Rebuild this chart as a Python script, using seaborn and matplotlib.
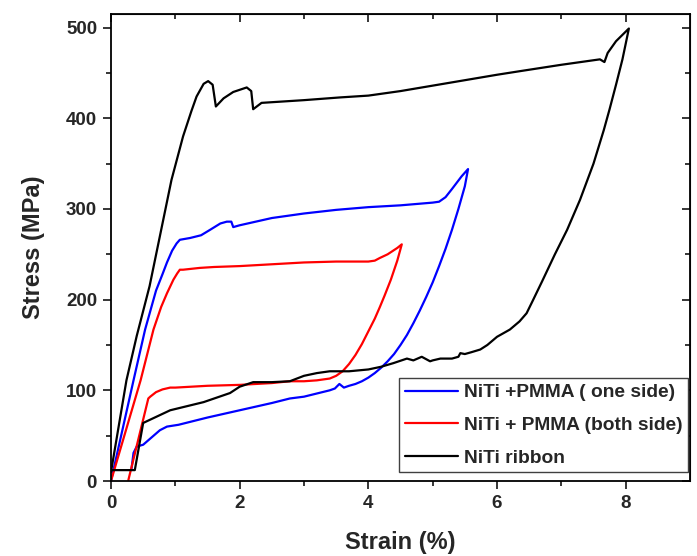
import numpy as np
import pandas as pd
import matplotlib
matplotlib.use("Agg")
import matplotlib.pyplot as plt
import seaborn as sns

# ---- data (strain %, stress MPa) ----
series_names = ["NiTi +PMMA ( one side)", "NiTi + PMMA (both side)", "NiTi ribbon"]
series_colors = ["#0000ff", "#ff0000", "#000000"]

blue_x = [0.0, 0.35, 0.53, 0.7, 0.8, 0.87, 0.95, 1.02, 1.07, 1.23, 1.4, 1.54, 1.7, 1.8, 1.87, 1.9, 2.0, 2.5,
          2.8, 3.0, 3.5, 4.0, 4.5, 5.0, 5.1, 5.2, 5.3, 5.45, 5.55,
          5.5, 5.4, 5.3, 5.2, 5.1, 5.0, 4.9, 4.8, 4.7, 4.6, 4.5, 4.4, 4.3, 4.2, 4.1, 4.0, 3.9, 3.8, 3.7,
          3.62, 3.55, 3.48, 3.4, 3.0, 2.78, 2.5, 2.0, 1.5, 1.05, 0.87, 0.76, 0.5, 0.4, 0.35, 0.32]
blue_y = [0, 111, 167, 210, 228, 241, 254, 262, 266, 268, 271, 277, 284, 286, 286, 280, 282, 290,
          293, 295, 299, 302, 304, 307, 308, 313, 322, 336, 344,
          325, 300, 277, 256, 237, 219, 203, 188, 174, 161, 150, 140, 132, 125, 119, 114, 110, 107, 105,
          103, 107, 102, 100, 93, 91, 86, 78, 70, 62, 60, 56, 40, 38, 31, 14]

red_x = [0.0, 0.46, 0.66, 0.78, 0.87, 0.97, 1.03, 1.07, 1.12, 1.38, 1.6, 2.0, 2.5, 3.0, 3.5, 4.0, 4.1, 4.18,
         4.3, 4.45, 4.52,
         4.45, 4.35, 4.25, 4.18, 4.1, 4.0, 3.9, 3.8, 3.7, 3.6, 3.5, 3.4, 3.2, 3.0, 2.78, 2.5, 2.0, 1.5,
         1.0, 0.92, 0.8, 0.7, 0.61, 0.58, 0.27]
red_y = [0, 111, 167, 192, 207, 222, 229, 233, 233, 235, 236, 237, 239, 241, 242, 242, 243, 246,
         250, 257, 261,
         243, 222, 204, 192, 179, 165, 151, 139, 129, 121, 116, 113, 111, 110, 110, 108, 106, 105,
         103, 103, 101, 98, 93, 91, 1]

black_x = [0.0, 0.24, 0.4, 0.6, 0.94, 1.12, 1.25, 1.33, 1.44, 1.51, 1.58, 1.63, 1.75, 1.9, 2.11, 2.18, 2.21,
           2.34, 3.0, 3.56, 4.0, 4.5, 5.0, 5.5, 6.0, 6.36, 7.0, 7.6, 7.67, 7.72, 7.85, 8.05,
           7.95, 7.85, 7.75, 7.66, 7.5, 7.29, 7.09, 6.9, 6.7, 6.55, 6.46, 6.35, 6.2, 6.0, 5.85, 5.74, 5.6,
           5.5, 5.43, 5.4, 5.3, 5.12, 5.0, 4.96, 4.83, 4.7, 4.6, 4.39, 4.2, 4.0, 3.7, 3.4, 3.2, 3.0,
           2.78, 2.5, 2.21, 2.0, 1.85, 1.44, 0.92, 0.53, 0.5, 0.37, 0.0]
black_y = [10, 111, 160, 215, 332, 380, 408, 424, 438, 441, 437, 413, 422, 429, 434, 430, 410,
           417, 420, 423, 425, 430, 436, 442, 448, 452, 459, 465, 462, 472, 485, 499,
           465, 437, 410, 387, 350, 310, 277, 250, 220, 198, 185, 176, 167, 159, 150, 145, 142,
           140, 141, 137, 135, 135, 133, 132, 137, 133, 135, 130, 126, 123, 121, 121, 119, 116,
           110, 109, 109, 104, 97, 87, 78, 65, 64, 12, 12]

x_ticks = [0, 2, 4, 6, 8]
y_ticks = [0, 100, 200, 300, 400, 500]

frames = []
for name, xs, ys in zip(series_names, [blue_x, red_x, black_x], [blue_y, red_y, black_y]):
    frames.append(pd.DataFrame({"strain": xs, "stress": ys, "series": name}))
df = pd.concat(frames, ignore_index=True)

sns.set_style("ticks")
plt.rcParams["font.family"] = ["Liberation Sans", "DejaVu Sans"]
plt.rcParams["font.weight"] = "bold"

fig = plt.figure(figsize=(6.97, 5.56), dpi=100)
ax = fig.add_axes([111 / 697, 1 - 481 / 556, 579 / 697, 467 / 556])

sns.lineplot(data=df, x="strain", y="stress", hue="series", hue_order=series_names,
             palette=dict(zip(series_names, series_colors)), sort=False, estimator=None,
             units="series", linewidth=1.6, ax=ax, legend=True)

ax.set_xlim(0, 9.0)
ax.set_ylim(0, 515)
ax.set_xticks(x_ticks)
ax.set_yticks(y_ticks)
ax.set_xticks(np.arange(1, 9, 2), minor=True)
ax.set_yticks(np.arange(50, 500, 100), minor=True)
ax.tick_params(which="major", direction="out", length=6, width=1.3, labelsize=13.5, pad=4)
ax.tick_params(which="minor", direction="out", length=3.5, width=1.3)
for lab in ax.get_xticklabels() + ax.get_yticklabels():
    lab.set_fontweight("bold")
for sp in ax.spines.values():
    sp.set_visible(True)
    sp.set_linewidth(1.3)
    sp.set_color("black")

# mirrored inward ticks on top and right
top = ax.secondary_xaxis("top")
top.set_xticks(x_ticks)
top.set_xticks(np.arange(1, 9, 2), minor=True)
top.tick_params(which="major", direction="in", length=6, width=1.3, labeltop=False)
top.tick_params(which="minor", direction="in", length=3.5, width=1.3)
right = ax.secondary_yaxis("right")
right.set_yticks(y_ticks)
right.set_yticks(np.arange(50, 500, 100), minor=True)
right.tick_params(which="major", direction="in", length=6, width=1.3, labelright=False)
right.tick_params(which="minor", direction="in", length=3.5, width=1.3)

ax.set_xlabel("Strain (%)", fontsize=17, fontweight="bold", labelpad=14)
ax.set_ylabel("Stress (MPa)", fontsize=17, fontweight="bold", labelpad=15)

leg = ax.legend(loc="lower right", bbox_to_anchor=(0.997, 0.019), fontsize=13.8,
                frameon=True, fancybox=False, edgecolor="0.25", framealpha=1,
                handlelength=2.75, labelspacing=0.8, borderpad=0.28, handletextpad=0.35,
                borderaxespad=0)
leg.get_frame().set_linewidth(1.0)
for t in leg.get_texts():
    t.set_fontweight("bold")
for h in leg.get_lines():
    h.set_linewidth(1.6)

fig.savefig("out.png", dpi=100)
